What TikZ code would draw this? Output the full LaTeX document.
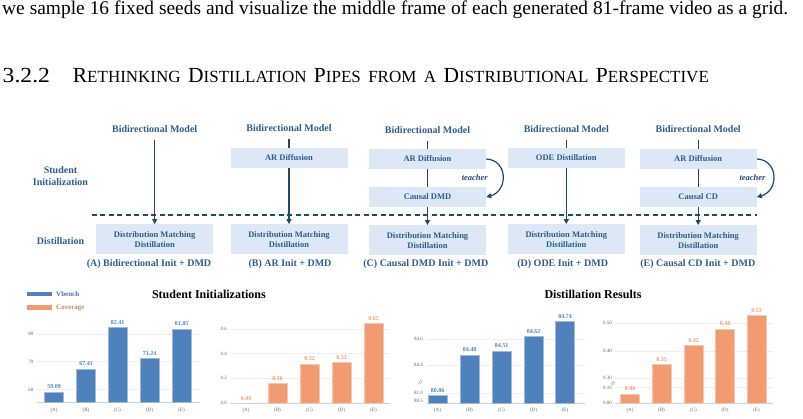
\documentclass[tikz,border=0pt]{standalone}
\usepackage{fontspec}
\setmainfont{Liberation Serif}
\usetikzlibrary{arrows.meta,backgrounds}
\definecolor{txtblue}{HTML}{2E5C8C}
\definecolor{boxfill}{HTML}{DCE8F5}
\definecolor{arrowc}{HTML}{1E4A6A}
\definecolor{barblue}{HTML}{4F81BD}
\definecolor{barorange}{HTML}{F19B72}
\definecolor{gridc}{HTML}{EEEEEE}
\definecolor{tickc}{HTML}{666666}
\newcommand\capsz{\fontsize{21.5}{23}\selectfont}
\newcommand\scsz{\fontsize{17}{18}\selectfont}
\newcommand\fsc[2]{{\capsz #1}{\scsz #2}}
\begin{document}
\begin{tikzpicture}[x=1pt,y=-1pt,
  lbl/.style={font=\fontsize{10}{11.7}\selectfont\bfseries, text=txtblue, inner sep=0pt, align=center},
  sbox/.style={fill=boxfill, minimum width=117pt, minimum height=20pt, inner sep=0pt,
     font=\fontsize{8.5}{10}\selectfont\bfseries, text=txtblue, align=center},
  dbox/.style={sbox, minimum height=30pt},
  flow/.style={draw=arrowc, line width=1.2pt, -{Triangle[length=5pt,width=5pt]}},
  dashline/.style={draw=arrowc, line width=1.3pt, dash pattern=on 5pt off 3.5pt},
  teach/.style={font=\fontsize{8.5}{10}\selectfont\bfseries\itshape, text=txtblue!80!black, inner sep=0pt},
  tick/.style={font=\fontsize{5}{6}\selectfont, text=tickc, inner sep=0pt},
  vlab/.style={font=\fontsize{6}{7}\selectfont\bfseries, inner sep=0pt},
  gline/.style={draw=gridc, line width=0.5pt},
  bline/.style={draw=black!18, line width=0.6pt},
  bblue/.style={fill=barblue, draw=barblue!55!white, line width=0.5pt},
  borange/.style={fill=barorange, draw=barorange!55!white, line width=0.5pt},
  title/.style={font=\fontsize{12}{14}\selectfont\bfseries, inner sep=0pt},
  legtext/.style={font=\fontsize{7}{8}\selectfont\bfseries, inner sep=0pt, anchor=west}
]
\useasboundingbox (0,0) rectangle (803,419);

% ---- text lines ----
\node[anchor=base west, inner sep=0pt] (body) at (2,14.5)
  {\fontsize{19.4}{20}\selectfont\makebox[786pt][s]{we sample 16 fixed seeds and visualize the middle frame of each generated 81-frame video as a grid.}};
\node[anchor=base west, inner sep=0pt] (secnum) at (2.5,83) {\capsz\scalebox{1.1}[1]{3.2.2}};
\node[anchor=base west, inner sep=0pt] (sectitle) at (72.7,83)
  {\capsz\makebox[636pt][s]{\fsc{R}{ETHINKING} \fsc{D}{ISTILLATION} \fsc{P}{IPES} \fsc{}{FROM} \fsc{}{A} \fsc{D}{ISTRIBUTIONAL} \fsc{P}{ERSPECTIVE}}};

% ---- diagram ----
\node[lbl] (si) at (60.5,176) {Student\\Initialization};
\node[lbl] (dist) at (60.5,240.7) {Distillation};

\node[lbl] (A0) at (154.7,129.3) {Bidirectional Model};
\node[lbl] (B0) at (289,128.3) {Bidirectional Model};
\node[lbl] (C0) at (427.5,130.5) {Bidirectional Model};
\node[lbl] (D0) at (566.3,129.3) {Bidirectional Model};
\node[lbl] (E0) at (698.2,129.3) {Bidirectional Model};

\node[sbox] (B1) at (289,158) {AR Diffusion};
\node[sbox] (C1) at (427.5,159) {AR Diffusion};
\node[sbox] (C2) at (427.5,197) {Causal DMD};
\node[sbox] (D1) at (566.3,158) {ODE Distillation};
\node[sbox] (E1) at (698.2,159) {AR Diffusion};
\node[sbox] (E2) at (698.2,197) {Causal CD};

\node[dbox] (A3) at (154.7,239.3) {Distribution Matching\\Distillation};
\node[dbox] (B3) at (289,239.3) {Distribution Matching\\Distillation};
\node[dbox] (C3) at (427.5,240.3) {Distribution Matching\\Distillation};
\node[dbox] (D3) at (566.3,239.3) {Distribution Matching\\Distillation};
\node[dbox] (E3) at (698.2,240.3) {Distribution Matching\\Distillation};

\node[lbl] (capA) at (149,264.3) {(A) Bidirectional Init + DMD};
\node[lbl] (capB) at (290,264.3) {(B) AR Init + DMD};
\node[lbl] (capC) at (425.8,264.3) {(C) Causal DMD Init + DMD};
\node[lbl] (capD) at (562.7,264.3) {(D) ODE Init + DMD};
\node[lbl] (capE) at (697.8,264.3) {(E) Causal CD Init + DMD};

\begin{pgfonlayer}{background}
\foreach \c in {A,B,C,D,E}{
  \draw[flow] ([yshift=-6.5pt]\c0.south) -- (\c3.north);
}
\end{pgfonlayer}

\coordinate (dl) at (91.7,215);
\coordinate (dr) at (756.7,215);
\draw[dashline] (dl) -- (dr);

\draw[flow] (C1.east) .. controls +(22,1) and +(22,-6) .. (C2.east);
\draw[flow] (E1.east) .. controls +(22,1) and +(22,-6) .. (E2.east);
\node[teach] (tC) at (474.8,177.5) {teacher};
\node[teach] (tE) at (752.5,177.3) {teacher};

% ---- legend and titles ----
\fill[barblue] (27,292) rectangle (52,296.5);
\node[legtext, text=barblue!85!black] (lv) at (56,294.3) {Vbench};
\fill[barorange] (27,305.5) rectangle (52,310);
\node[legtext, text=barorange!85!black] (lc) at (56,307.7) {Coverage};
\node[title] (t1) at (208.9,294.8) {Student Initializations};
\node[title] (t2) at (593,294.8) {Distillation Results};

% ---- chart 1 ----
\foreach \yy in {334,361.7,389.4} \draw[gline] (37,\yy) -- (200,\yy);
\draw[bline] (37,402.7) -- (200,402.7);
\node[tick, anchor=east] (c1y1) at (33.5,334) {80};
\node[tick, anchor=east] (c1y2) at (33.5,361.7) {70};
\node[tick, anchor=east] (c1y3) at (33.5,389.4) {60};
\foreach \xc/\tp/\v/\lab [count=\i] in {54/391.9/59.09/(A), 86/368.9/67.41/(B), 117.5/327.3/82.41/(C), 149.5/358.3/71.24/(D), 181.5/328.9/81.85/(E)}{
  \draw[bblue] (\xc-9.5,402.7) rectangle (\xc+9.5,\tp);
  \node[vlab, text=barblue] (c1v\i) at (\xc,\tp-5) {\v};
  \node[tick] (c1x\i) at (\xc,410) {\lab};
}

% ---- chart 2 ----
\foreach \yy in {329.3,353.7,378.3} \draw[gline] (230,\yy) -- (390,\yy);
\draw[bline] (230,403.3) -- (390,403.3);
\node[tick, anchor=east] (c2y1) at (227,329.3) {0.6};
\node[tick, anchor=east] (c2y2) at (227,353.7) {0.4};
\node[tick, anchor=east] (c2y3) at (227,378.3) {0.2};
\node[tick, anchor=east] (c2y4) at (227,403.3) {0.0};
\node[vlab, text=barorange] (c2v1) at (246,399) {0.00};
\node[tick] (c2x1) at (246,410) {(A)};
\foreach \xc/\tp/\v/\lab [count=\i] in {277.5/383.6/0.16/(B), 309.5/363.8/0.32/(C), 341.5/362.6/0.33/(D), 373.5/323.2/0.65/(E)}{
  \draw[borange] (\xc-9.5,403.3) rectangle (\xc+9.5,\tp);
  \node[vlab, text=barorange] (c2v\i b) at (\xc,\tp-5) {\v};
  \node[tick] (c2x\i b) at (\xc,410) {\lab};
}

% ---- chart 3 ----
\foreach \yy in {339.3,365.3,393} \draw[gline] (427,\yy) -- (585,\yy);
\draw[bline] (427,403.3) -- (585,403.3);
\node[tick, anchor=east] (c3y1) at (423,339.3) {84.6};
\node[tick, anchor=east] (c3y2) at (423,365.3) {84.4};
\node[tick, anchor=east] (c3y3) at (423,393) {81.0};
\node[tick, anchor=east] (c3y4) at (423,400.7) {80.5};
\draw[draw=tickc!70, line width=0.4pt] (418.3,383.5) -- (421,380) (419.8,384.3) -- (422.5,380.8);
\foreach \xc/\tp/\v/\lab [count=\i] in {437.5/395.2/80.86/(A), 469.5/354.9/84.48/(B), 501.5/351.0/84.51/(C), 533.5/336.7/84.62/(D), 565/321.1/84.74/(E)}{
  \draw[bblue] (\xc-9.5,403.3) rectangle (\xc+9.5,\tp);
  \node[vlab, text=barblue] (c3v\i) at (\xc,\tp-5) {\v};
  \node[tick] (c3x\i) at (\xc,410) {\lab};
}

% ---- chart 4 ----
\foreach \yy in {323.3,351,378,387.7} \draw[gline] (615,\yy) -- (773,\yy);
\draw[bline] (615,403.3) -- (773,403.3);
\node[tick, anchor=east] (c4y1) at (612,323.3) {0.50};
\node[tick, anchor=east] (c4y2) at (612,351) {0.40};
\node[tick, anchor=east] (c4y3) at (612,378) {0.30};
\node[tick, anchor=east] (c4y4) at (612,387.7) {0.10};
\node[tick, anchor=east] (c4y5) at (612,403.3) {0.00};
\draw[draw=tickc!70, line width=0.4pt] (611,384.5) -- (613.7,381) (612.5,385.3) -- (615.2,381.8);
\foreach \xc/\tp/\v/\lab [count=\i] in {630/393.9/0.06/(A), 661.5/364.3/0.35/(B), 693.5/345.4/0.42/(C), 725/329/0.48/(D), 756.5/315.1/0.53/(E)}{
  \draw[borange] (\xc-9.5,403.3) rectangle (\xc+9.5,\tp);
  \node[vlab, text=barorange] (c4v\i) at (\xc,\tp-5) {\v};
  \node[tick] (c4x\i) at (\xc,410) {\lab};
}
\end{tikzpicture}
\end{document}
